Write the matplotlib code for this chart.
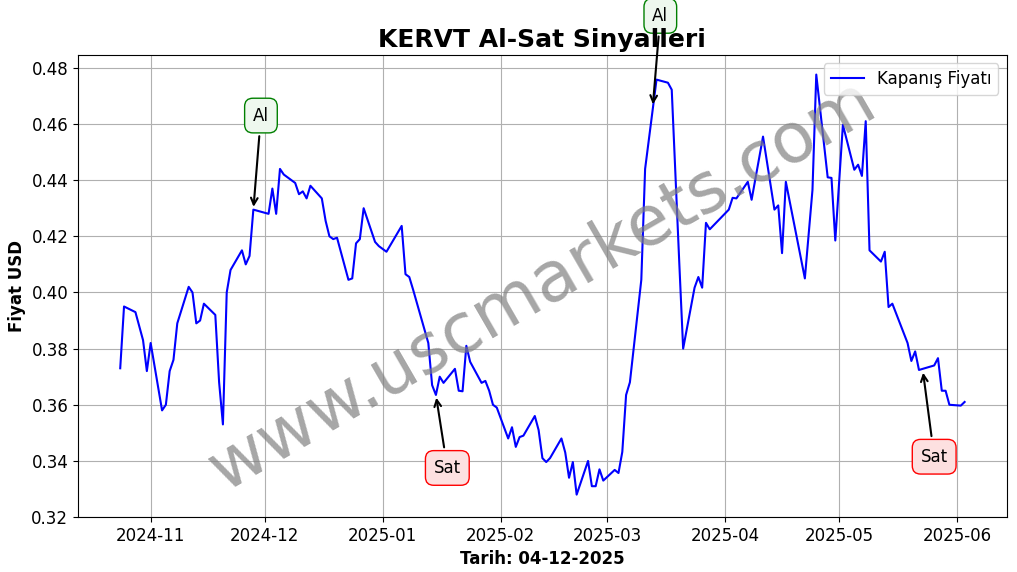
import pandas as pd
import matplotlib
matplotlib.use('Agg')
import matplotlib.pyplot as plt

dates = ['2024-10-24', '2024-10-25', '2024-10-28', '2024-10-30', '2024-10-31', '2024-11-01',
         '2024-11-04', '2024-11-05', '2024-11-06', '2024-11-07', '2024-11-08',
         '2024-11-11', '2024-11-12', '2024-11-13', '2024-11-14', '2024-11-15',
         '2024-11-18', '2024-11-19', '2024-11-20', '2024-11-21', '2024-11-22',
         '2024-11-25', '2024-11-26', '2024-11-27', '2024-11-28',
         '2024-12-02', '2024-12-03', '2024-12-04', '2024-12-05', '2024-12-06',
         '2024-12-09', '2024-12-10', '2024-12-11', '2024-12-12', '2024-12-13',
         '2024-12-16', '2024-12-17', '2024-12-18', '2024-12-19', '2024-12-20',
         '2024-12-23', '2024-12-24', '2024-12-25', '2024-12-26', '2024-12-27',
         '2024-12-30', '2024-12-31', '2025-01-02',
         '2025-01-06', '2025-01-07', '2025-01-08', '2025-01-09',
         '2025-01-13', '2025-01-14', '2025-01-15', '2025-01-16', '2025-01-17',
         '2025-01-20', '2025-01-21', '2025-01-22', '2025-01-23', '2025-01-24',
         '2025-01-27', '2025-01-28', '2025-01-29', '2025-01-30', '2025-01-31',
         '2025-02-03', '2025-02-04', '2025-02-05', '2025-02-06', '2025-02-07',
         '2025-02-10', '2025-02-11', '2025-02-12', '2025-02-13', '2025-02-14',
         '2025-02-17', '2025-02-18', '2025-02-19', '2025-02-20', '2025-02-21',
         '2025-02-24', '2025-02-25', '2025-02-26', '2025-02-27', '2025-02-28',
         '2025-03-03', '2025-03-04', '2025-03-05', '2025-03-06', '2025-03-07',
         '2025-03-10', '2025-03-11', '2025-03-14',
         '2025-03-17', '2025-03-18', '2025-03-19', '2025-03-20', '2025-03-21',
         '2025-03-24', '2025-03-25', '2025-03-26', '2025-03-27', '2025-03-28',
         '2025-04-02', '2025-04-03', '2025-04-04',
         '2025-04-07', '2025-04-08', '2025-04-11',
         '2025-04-14', '2025-04-15', '2025-04-16', '2025-04-17',
         '2025-04-22', '2025-04-24', '2025-04-25',
         '2025-04-28', '2025-04-29', '2025-04-30', '2025-05-02',
         '2025-05-05', '2025-05-06', '2025-05-07', '2025-05-08', '2025-05-09',
         '2025-05-12', '2025-05-13', '2025-05-14', '2025-05-15',
         '2025-05-19', '2025-05-20', '2025-05-21', '2025-05-22',
         '2025-05-26', '2025-05-27', '2025-05-28', '2025-05-29', '2025-05-30',
         '2025-06-02', '2025-06-03']
prices = [0.373, 0.395, 0.393, 0.383, 0.372, 0.382,
          0.358, 0.360, 0.372, 0.376, 0.389,
          0.402, 0.400, 0.389, 0.390, 0.396,
          0.392, 0.368, 0.353, 0.400, 0.408,
          0.415, 0.410, 0.413, 0.4295,
          0.428, 0.437, 0.428, 0.444, 0.442,
          0.439, 0.435, 0.436, 0.4335, 0.438,
          0.4335, 0.4255, 0.420, 0.419, 0.4195,
          0.4045, 0.405, 0.4175, 0.419, 0.430,
          0.418, 0.4165, 0.4145,
          0.4237, 0.4065, 0.4055, 0.401,
          0.382, 0.367, 0.3635, 0.370, 0.3678,
          0.3728, 0.365, 0.3648, 0.381, 0.3753,
          0.3678, 0.3685, 0.365, 0.360, 0.359,
          0.348, 0.352, 0.345, 0.3485, 0.349,
          0.356, 0.351, 0.341, 0.3396, 0.341,
          0.348, 0.343, 0.334, 0.3396, 0.328,
          0.340, 0.331, 0.331, 0.337, 0.333,
          0.3368, 0.3357, 0.3432, 0.3635, 0.368,
          0.4045, 0.444, 0.4758,
          0.4747, 0.4722, 0.441, 0.410, 0.380,
          0.4017, 0.4055, 0.4017, 0.4248, 0.4225,
          0.4295, 0.4337, 0.4335,
          0.4394, 0.433, 0.4555,
          0.4295, 0.431, 0.414, 0.4394,
          0.405, 0.4365, 0.4776,
          0.441, 0.4408, 0.4185, 0.4597,
          0.4437, 0.4455, 0.4415, 0.461, 0.415,
          0.411, 0.4145, 0.3948, 0.396,
          0.382, 0.3756, 0.379, 0.3724,
          0.374, 0.3766, 0.365, 0.365, 0.360,
          0.3597, 0.361]

# signals: (date, price, text date, text price)
buy_signals = [('2024-11-28', 0.4295, '2024-11-30', 0.463),
               ('2025-03-13', 0.466, '2025-03-15', 0.4985)]
sell_signals = [('2025-01-15', 0.3635, '2025-01-18', 0.3375),
                ('2025-05-23', 0.3724, '2025-05-26', 0.3415)]

x = pd.to_datetime(dates)

fig, ax = plt.subplots(figsize=(10.17, 5.72), dpi=100)
fig.subplots_adjust(left=0.0767, right=0.990, bottom=0.096, top=0.904)
ax.plot(x, prices, color='blue', lw=1.5, label='Kapanış Fiyatı')

for d, p, td, tp in buy_signals:
    ax.annotate('Al', xy=(pd.Timestamp(d), p), xytext=(pd.Timestamp(td), tp),
                ha='center', va='center', fontsize=12,
                arrowprops=dict(arrowstyle='->', color='black', lw=1.5),
                bbox=dict(boxstyle='round,pad=0.5', fc='#eef8ee', ec='green'),
                annotation_clip=False)
for d, p, td, tp in sell_signals:
    ax.annotate('Sat', xy=(pd.Timestamp(d), p), xytext=(pd.Timestamp(td), tp),
                ha='center', va='center', fontsize=12,
                arrowprops=dict(arrowstyle='->', color='black', lw=1.5),
                bbox=dict(boxstyle='round,pad=0.5', fc='#fde0e0', ec='red'),
                annotation_clip=False)

ax.text(0.5, 0.5, 'www.uscmarkets.com', transform=ax.transAxes, fontsize=50,
        color='gray', alpha=0.7, rotation=30, ha='center', va='center')

ax.set_ylim(0.32, 0.4846)
ax.grid(True)
ax.tick_params(labelsize=12)
ax.set_title('KERVT Al-Sat Sinyalleri', fontsize=18, fontweight='bold')
ax.set_xlabel('Tarih: 04-12-2025', fontsize=12, fontweight='bold')
ax.set_ylabel('Fiyat USD', fontsize=12, fontweight='bold')
ax.xaxis.set_major_formatter(matplotlib.dates.DateFormatter('%Y-%m'))
ax.legend(loc='upper right', fontsize=12)
plt.savefig('out.png')
